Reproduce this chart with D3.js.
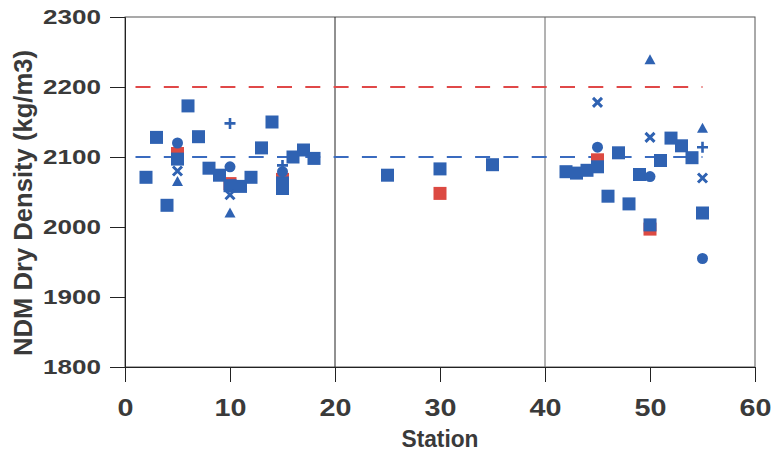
<!DOCTYPE html>
<html><head><meta charset="utf-8">
<script src="https://cdn.jsdelivr.net/npm/d3@7"></script>
<style>body{margin:0;background:#fff}svg{display:block}</style>
</head><body>
<script>
const xTicks = [0,10,20,30,40,50,60];
const yTicks = [1800,1900,2000,2100,2200,2300];
const dividers = [20,40];
const blueSquares = [[2,2071],[3,2128],[4,2031],[5,2097],[6,2173],[7,2129],[8,2084],[9,2074],[10,2059],[11,2058],[12,2071],[13,2113],[14,2150],[15,2063],[15,2055],[16,2100],[17,2110],[18,2098],[25,2074],[30,2083],[35,2089],[42,2079],[43,2077],[44,2081],[45,2086],[46,2044],[47,2106],[48,2033],[49,2075],[50,2003],[51,2095],[52,2127],[53,2116],[54,2099],[55,2020]];
const redSquares = [[5,2105],[10,2062],[15,2068],[30,2048],[45,2096],[50,1997]];
const circles = [[5,2120],[10,2086],[15,2079],[45,2114],[50,2072],[55,1955]];
const triangles = [[5,2065],[10,2020],[50,2239],[55,2141]];
const crosses = [[5,2080],[10,2046],[45,2178],[50,2128],[55,2070]];
const pluses = [[10,2148],[15,2088],[55,2114]];
const upperLimit = {from:1, to:55, value:2200};
const target = {from:1, to:55, value:2100};

const W=779,H=455;
const svg=d3.select("body").append("svg").attr("width",W).attr("height",H);
const x=d3.scaleLinear().domain([0,60]).range([125,755]);
const y=d3.scaleLinear().domain([1800,2300]).range([367,17]);
const blue="#2f62b2", red="#dc4a42", txt="#3a3a3a";
const font="Liberation Sans, Arial, sans-serif";

// frame
svg.append("rect").attr("x",125).attr("y",17).attr("width",630).attr("height",350)
  .attr("fill","none").attr("stroke","#555").attr("stroke-width",1);
dividers.forEach((d,i)=>svg.append("line").attr("x1",x(d)).attr("x2",x(d)).attr("y1",17).attr("y2",367)
  .attr("stroke",i==0?"#222":"#666").attr("stroke-width",1));

// axes
const gx=svg.append("g").attr("transform","translate(0,367)")
  .call(d3.axisBottom(x).tickValues(xTicks).tickSize(15).tickPadding(18).tickFormat(d3.format("d")));
gx.select(".domain").attr("stroke","#222");
gx.selectAll(".tick line").attr("stroke","#222");
gx.selectAll(".tick text").attr("font-family",font).attr("font-weight","bold").attr("font-size",23).attr("fill",txt)
  .attr("textLength",d=>String(d).length*16).attr("lengthAdjust","spacingAndGlyphs");
const gy=svg.append("g").attr("transform","translate(125,0)")
  .call(d3.axisLeft(y).tickValues(yTicks).tickSize(15).tickPadding(9).tickFormat(d3.format("d")));
gy.select(".domain").attr("stroke","#222");
gy.selectAll(".tick line").attr("stroke","#222");
gy.selectAll(".tick text").attr("font-family",font).attr("font-weight","bold").attr("font-size",21).attr("fill",txt)
  .attr("textLength",58).attr("lengthAdjust","spacingAndGlyphs");

svg.append("text").attr("x",440).attr("y",447).attr("text-anchor","middle")
  .attr("font-family",font).attr("font-weight","bold").attr("font-size",24).attr("fill",txt)
  .attr("textLength",77).attr("lengthAdjust","spacingAndGlyphs").text("Station");
svg.append("text").attr("transform","translate(32,203) rotate(-90)").attr("text-anchor","middle")
  .attr("font-family",font).attr("font-weight","bold").attr("font-size",25).attr("fill",txt)
  .attr("textLength",306).attr("lengthAdjust","spacingAndGlyphs").text("NDM Dry Density (kg/m3)");

// reference lines
[[upperLimit,"#e04848"],[target,"#3a6bbf"]].forEach(([l,c])=>
  svg.append("line").attr("x1",x(l.from)).attr("x2",x(l.to)).attr("y1",y(l.value)).attr("y2",y(l.value))
    .attr("stroke",c).attr("stroke-width",2).attr("stroke-dasharray","15 13.3"));

const s=13;
svg.append("g").selectAll("rect").data(redSquares).join("rect")
  .attr("x",d=>x(d[0])-s/2).attr("y",d=>y(d[1])-s/2).attr("width",s).attr("height",s).attr("fill",red);
svg.append("g").selectAll("rect").data(blueSquares).join("rect")
  .attr("x",d=>x(d[0])-s/2).attr("y",d=>y(d[1])-s/2).attr("width",s).attr("height",s).attr("fill",blue);
svg.append("g").selectAll("circle").data(circles).join("circle")
  .attr("cx",d=>x(d[0])).attr("cy",d=>y(d[1])).attr("r",5.5).attr("fill",blue);
svg.append("g").selectAll("path").data(triangles).join("path")
  .attr("transform",d=>`translate(${x(d[0])},${y(d[1])})`)
  .attr("d","M0,-5.5L5.5,4.5L-5.5,4.5Z").attr("fill",blue);
svg.append("g").selectAll("path").data(crosses).join("path")
  .attr("transform",d=>`translate(${x(d[0])},${y(d[1])})`)
  .attr("d","M-4.5,-4.5L4.5,4.5M4.5,-4.5L-4.5,4.5").attr("stroke",blue).attr("stroke-width",3).attr("fill","none");
svg.append("g").selectAll("path").data(pluses).join("path")
  .attr("transform",d=>`translate(${x(d[0])},${y(d[1])})`)
  .attr("d","M-5.5,0L5.5,0M0,-5.5L0,5.5").attr("stroke",blue).attr("stroke-width",2.6).attr("fill","none");
</script>
</body></html>
